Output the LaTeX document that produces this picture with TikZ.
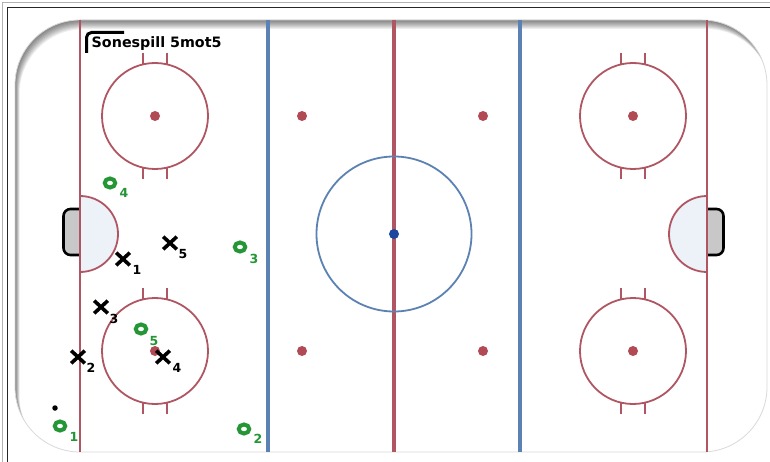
\documentclass[tikz,border=0pt]{standalone}
\usepackage{fontspec}
\setmainfont{DejaVu Sans}
\usetikzlibrary{shapes.geometric,shapes.misc}
\definecolor{rinkred}{RGB}{176,86,98}
\definecolor{dotred}{RGB}{178,74,86}
\definecolor{blueline}{RGB}{92,130,180}
\definecolor{centerdot}{RGB}{28,72,160}
\definecolor{creasefill}{RGB}{236,242,247}
\definecolor{netfill}{RGB}{200,200,200}
\definecolor{pgreen}{RGB}{36,150,54}
\tikzset{
  redline/.style={draw=rinkred, line width=2pt},
  bluel/.style={draw=blueline, line width=3.2pt},
  fcircle/.style={draw=rinkred, line width=1.8pt},
  omark/.style={ellipse, draw=pgreen, line width=4pt, minimum width=10.5pt, minimum height=9pt, inner sep=0pt},
  xmark/.style={cross out, draw=black, line width=3.6pt, minimum width=10pt, minimum height=9pt, inner sep=0pt},
  olab/.style={text=pgreen, font=\bfseries\fontsize{12.5}{13}\selectfont, inner sep=0pt},
  xlab/.style={text=black, font=\bfseries\fontsize{12.5}{13}\selectfont, inner sep=0pt},
  reddot/.style={circle, fill=dotred, minimum size=10pt, inner sep=0pt},
}
\begin{document}
\begin{tikzpicture}[x=1pt,y=-1pt]
\useasboundingbox (0,0) rectangle (770,462);
\fill[white] (0,0) rectangle (770,462);
% outer frame
\draw[gray!60, line width=1.6pt] (2.5,462) -- (2.5,2.5) -- (770,2.5);
\draw[black!85, line width=1.6pt] (7.5,462) -- (7.5,7.5) -- (770,7.5);
% rink
\fill[white, rounded corners=65pt] (15,20) rectangle (767,452);
\begin{scope}
\clip[rounded corners=65pt] (15,20) rectangle (767,452);
\foreach \k in {1,...,9}
  \fill[black, opacity=0.065, even odd rule] (-50,-50) rectangle (820,520)
    [rounded corners=65pt] ({15+\k*0.5},{20+\k}) rectangle ({767+\k*0.5},{452+\k});
\end{scope}
\draw[black!15, line width=0.8pt, rounded corners=65pt] (15,20) rectangle (767,452);
% creases
\filldraw[fill=creasefill, draw=rinkred, line width=1.8pt] (80,196) arc[start angle=90, end angle=-90, radius=38pt];
\filldraw[fill=creasefill, draw=rinkred, line width=1.8pt] (707,196) arc[start angle=90, end angle=270, radius=38pt];
% nets
\filldraw[fill=netfill, draw=black, line width=2.6pt, rounded corners=7pt] (80,209) -- (63.5,209) -- (63.5,255) -- (80,255);
\filldraw[fill=netfill, draw=black, line width=2.6pt, rounded corners=7pt] (707,209) -- (723.5,209) -- (723.5,255) -- (707,255);
% lines
\draw[redline] (80,20) -- (80,452);
\draw[redline] (707,20) -- (707,452);
\draw[bluel] (268,20) -- (268,452);
\draw[bluel] (520,20) -- (520,452);
\draw[draw=rinkred, line width=3.6pt] (394,20) -- (394,452);
% center circle
\draw[draw=blueline, line width=1.8pt] (394,234) circle[radius=77.5pt];
\node[circle, fill=centerdot, minimum size=10pt, inner sep=0pt] (cdot) at (394,234) {};
% faceoff circles
\foreach \cx/\cy in {155/116, 155/351, 633/116, 633/351}{
  \draw[fcircle] (\cx,\cy) circle[radius=53pt];
  \draw[fcircle] (\cx-12,\cy-63) -- (\cx-12,\cy-51.5);
  \draw[fcircle] (\cx+12,\cy-63) -- (\cx+12,\cy-51.5);
  \draw[fcircle] (\cx-12,\cy+63) -- (\cx-12,\cy+51.5);
  \draw[fcircle] (\cx+12,\cy+63) -- (\cx+12,\cy+51.5);
}
\node[reddot] (d1) at (155,116) {};
\node[reddot] (d2) at (155,351) {};
\node[reddot] (d3) at (633,116) {};
\node[reddot] (d4) at (633,351) {};
\node[reddot] (n1) at (302,116) {};
\node[reddot] (n2) at (483,116) {};
\node[reddot] (n3) at (302,351) {};
\node[reddot] (n4) at (483,351) {};
% title
\draw[line width=3pt, rounded corners=5pt] (86.5,53) -- (86.5,32.5) -- (124,32.5);
\node[anchor=base west, inner sep=0pt, font=\bfseries\fontsize{14.3}{16}\selectfont] (title) at (91.5,48) {Sonespill 5mot5};
% players O
\node[omark] (o1) at (60,426) {};  \node[olab] (o1l) at (74,437) {1};
\node[omark] (o2) at (244,429) {}; \node[olab] (o2l) at (258,439) {2};
\node[omark] (o3) at (240,247) {}; \node[olab] (o3l) at (254,259) {3};
\node[omark] (o4) at (110,183) {}; \node[olab] (o4l) at (124,193) {4};
\node[omark] (o5) at (141,329) {}; \node[olab] (o5l) at (154,341) {5};
% players X
\node[xmark] (x1) at (123,259) {}; \node[xlab] (x1l) at (137,270) {1};
\node[xmark] (x2) at (78,357) {};  \node[xlab] (x2l) at (91,368) {2};
\node[xmark] (x3) at (101,307) {}; \node[xlab] (x3l) at (114,319) {3};
\node[xmark] (x4) at (163,357) {}; \node[xlab] (x4l) at (177,368) {4};
\node[xmark] (x5) at (170,243) {}; \node[xlab] (x5l) at (183,254) {5};
% puck
\node[circle, fill=black, minimum size=5.5pt, inner sep=0pt] (puck) at (55,408) {};
\end{tikzpicture}
\end{document}
